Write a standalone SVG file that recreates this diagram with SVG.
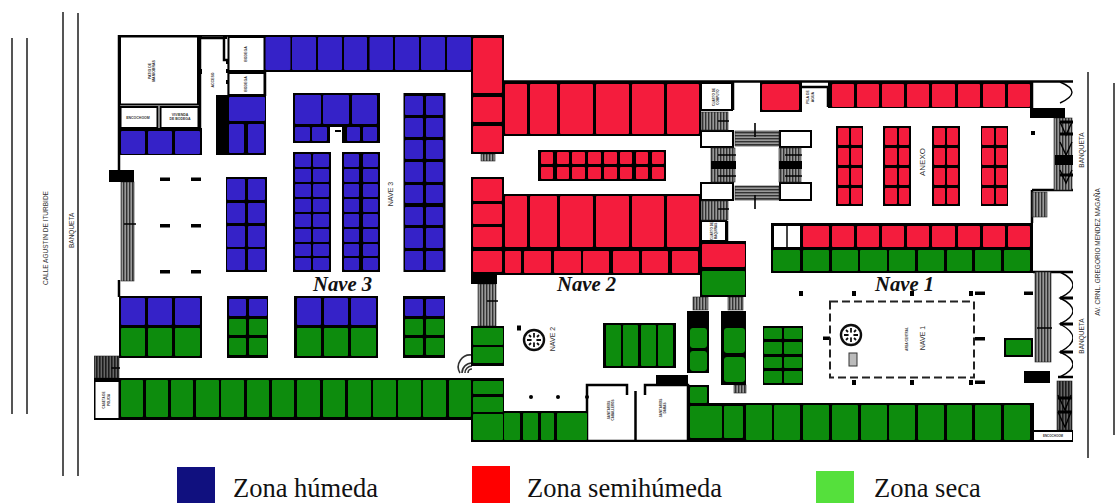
<svg xmlns="http://www.w3.org/2000/svg" width="1117" height="503" viewBox="0 0 1117 503">
<style>
.k{fill:#000}
.b{fill:#3420c8}
.r{fill:#f41e3c}
.g{fill:#0a8c0a}
.w{fill:#fff;stroke:#000;stroke-width:2}
.sv{fill:url(#sv);stroke:#222;stroke-width:.6}
.sh{fill:url(#sh);stroke:#222;stroke-width:.6}
.sd{fill:url(#sd);stroke:#222;stroke-width:.6}
.l{stroke:#000;stroke-width:2.5;fill:none}
.road{stroke:#555;stroke-width:2;fill:none}
.t{font-family:"Liberation Sans",Arial,sans-serif;fill:#333}
.n{font-family:"Liberation Serif","Times New Roman",serif;font-weight:bold;font-style:italic;font-size:20.700px;fill:#111}
.z{font-family:"Liberation Serif","Times New Roman",serif;font-size:26.500px;fill:#111}
</style>
<defs>
<pattern id="sv" width="3" height="4" patternUnits="userSpaceOnUse"><rect width="3" height="4" fill="#999"/><rect width="1.4" height="4" fill="#333"/></pattern>
<pattern id="sh" width="4" height="3" patternUnits="userSpaceOnUse"><rect width="4" height="3" fill="#999"/><rect width="4" height="1.4" fill="#333"/></pattern>
<pattern id="sd" width="3" height="4" patternUnits="userSpaceOnUse"><rect width="3" height="4" fill="#666"/><rect width="1.6" height="4" fill="#1c1c1c"/></pattern>
<filter id="soft" x="0" y="0" width="1" height="1"><feGaussianBlur stdDeviation="0.35"/></filter>
<g id="compass"><circle r="10" fill="#fff" stroke="#111" stroke-width="2.4"/><path d="M-7 0H7M0-7V7M-5-5L-3-3M5-5L3-3M-5 5L-3 3M5 5L3 3" stroke="#111" stroke-width="1.8"/><circle r="2.5" fill="#fff"/></g>
</defs>
<g class="road">
<path d="M12 38V414M27 38V414M63 12V476M78 13V476M1088 72V458M1114 83V435"/>
</g>
<g filter="url(#soft)">
<g id="walls">
<path class="l" d="M119 35.500H503M119 35V170M119 280V297M503 81.500H1073M471 441H1034"/>
<path class="l" d="M200 37V130M200 38H224V60H229V95M265 37V96M228 71.500H265" stroke-width="2"/>
<path class="l" d="M1032 82V110M1032 190V223M1032 190H1073M1033 272H1073M1058 377H1073M801 87H828V107"/>
<rect class="k" x="198" y="36" width="4" height="3"/><rect class="k" x="223" y="36" width="4" height="3"/>
<rect class="k" x="198" y="69" width="4" height="5"/><rect class="k" x="226" y="60" width="4" height="4"/><rect class="k" x="226" y="69" width="4" height="4"/><rect class="k" x="226" y="80" width="4" height="4"/>
<path class="l" d="M587 440V385H627V395M645 395V385H688V441M635.500 391V441"/>
<path class="l" d="M733 81V110M727 221V241" />
</g>
<g id="rooms">
<rect class="w" x="120" y="36.500" width="78" height="68"/>
<rect class="w" x="120.500" y="107" width="37" height="21"/>
<rect class="w" x="160.500" y="107" width="38" height="21"/>
<rect class="w" x="228.500" y="37" width="36" height="34"/>
<rect class="w" x="228.500" y="73" width="36" height="22"/>
<rect class="w" x="701" y="83" width="31" height="27"/>
<rect class="w" x="701" y="131" width="32" height="16"/>
<rect class="w" x="701" y="183" width="32" height="17"/>
<rect class="w" x="780" y="131" width="31" height="16"/>
<rect class="w" x="780" y="183" width="31" height="17"/>
<rect class="w" x="701" y="221" width="25" height="20"/>
</g>
<g id="stairs">
<rect class="sv" x="121" y="182" width="13" height="99"/>
<rect class="k" x="109" y="170" width="25" height="12"/>
<rect class="sd" x="94" y="356" width="25" height="22"/>
<rect class="sv" x="478" y="284" width="18" height="42"/>
<rect class="k" x="471" y="272" width="26" height="12"/>
<rect class="sv" x="481" y="154" width="14" height="7"/>
<rect class="sv" x="701" y="112" width="27" height="18"/>
<rect class="sv" x="711" y="148" width="24" height="34"/>
<rect class="k" x="711" y="161" width="25" height="8"/>
<rect class="sh" x="735" y="131" width="44" height="15"/>
<rect class="sh" x="735" y="186" width="44" height="14"/>
<rect class="sv" x="779" y="148" width="22" height="34"/>
<rect class="k" x="779" y="161" width="23" height="8"/>
<rect class="sv" x="701" y="201" width="27" height="19"/>
<rect class="sv" x="693" y="297" width="15" height="13"/>
<rect class="sv" x="728" y="297" width="15" height="13"/>
<rect class="sv" x="734" y="385" width="12" height="8"/>
<rect class="sv" x="1054" y="118" width="18" height="72"/>
<rect class="k" x="1030" y="108" width="35" height="10"/>
<rect class="k" x="1055" y="155" width="18" height="10"/>
<rect class="sv" x="1032" y="192" width="15" height="25"/>
<rect class="sv" x="1035" y="272" width="16" height="90"/>
<rect class="k" x="1024" y="371" width="26" height="12"/>
<rect class="sd" x="1057" y="381" width="15" height="49"/>
<path d="M462 373A10 10 0 0 1 472 363M465 373A7 7 0 0 1 472 366M468 373A4 4 0 0 1 472 369M460 373A12 12 0 0 1 472 355" fill="none" stroke="#333" stroke-width="1.6"/>
<path d="M1060 272Q1086 285 1060 298Q1086 311 1060 324Q1086 338 1060 352Q1086 364 1060 377M1060 82Q1084 92 1060 103M1060 122L1066 135L1072 122M1060 142L1066 155L1072 142M1060 170L1066 183L1072 170M1058 395L1065 410L1071 395M1058 412L1065 427L1071 412" fill="none" stroke="#000" stroke-width="1.4"/>
<path d="M1060 298H1073M1060 324H1073M1060 352H1073M1060 122H1073M1060 134H1073M1060 175H1073M1058 398H1072M1058 412H1072" stroke="#000" stroke-width="3"/>
<path d="M124 224H136M111 368H120M487 301H498M718 121H729M718 209H729M755 123V137M755 195V209M718 155H736M718 176H736M785 155H802M785 176H802M1037 328H1052" stroke="#000" stroke-width="1.600"/>
</g>
<g id="pillars" class="k">
<rect x="160" y="177.500" width="10" height="3.500"/><rect x="191" y="177.500" width="10" height="3.500"/>
<rect x="160" y="224" width="10" height="3.500"/><rect x="191" y="224" width="10" height="3.500"/>
<rect x="160" y="270" width="10" height="3.500"/><rect x="191" y="270" width="10" height="3.500"/>
<rect x="517" y="325.500" width="4" height="5"/><circle cx="531" cy="397" r="2"/><circle cx="558" cy="397" r="2"/><circle cx="587" cy="397" r="2"/>
<rect x="799" y="291" width="4" height="5"/><rect x="852" y="291" width="4" height="5"/><rect x="910" y="291" width="4" height="5"/><rect x="969" y="291" width="4" height="5"/>
<rect x="975" y="291.500" width="10" height="3.500"/><rect x="1024" y="291.500" width="9" height="3.500"/>
<rect x="852" y="380" width="4" height="5"/><rect x="910" y="380" width="4" height="5"/><rect x="969" y="380" width="4" height="5"/>
<rect x="975" y="380.500" width="10" height="3.500"/><rect x="823" y="336.500" width="7" height="3.500"/><rect x="975" y="337" width="10" height="3.500"/>
<rect x="1031" y="131" width="4" height="4"/>
<rect x="216" y="95" width="12" height="60"/>
<rect x="656" y="375" width="32" height="11"/>
</g>
<g id="blackblocks" class="k">
<rect x="265" y="35" width="208" height="37"/>
<rect x="119" y="128" width="83" height="27"/>
<rect x="228" y="95" width="38" height="60"/>
<rect x="226" y="177" width="41" height="95"/>
<rect x="293" y="93" width="87" height="50"/>
<rect x="293" y="152" width="38" height="120"/>
<rect x="342" y="152" width="38" height="120"/>
<rect x="403.500" y="93" width="42" height="179"/>
<rect x="119" y="296" width="83" height="62"/>
<rect x="227" y="296" width="41" height="62"/>
<rect x="294" y="296" width="84" height="62"/>
<rect x="403" y="296" width="42" height="62"/>
<rect x="94" y="378" width="378" height="42"/>
<rect x="471" y="326" width="33" height="40"/>
<rect x="471" y="378" width="33" height="64"/>
<rect x="504" y="411" width="84" height="31"/>
<rect x="603" y="323" width="73" height="45"/>
<rect x="700" y="241" width="46" height="56"/>
<rect x="687" y="311" width="22" height="62"/>
<rect x="721" y="311" width="25" height="74"/>
<rect x="687" y="385" width="22" height="20"/>
<rect x="687" y="403" width="347" height="39"/>
<rect x="471" y="35" width="33" height="119"/>
<rect x="504" y="81" width="197" height="55"/>
<rect x="538" y="150" width="128" height="31"/>
<rect x="471" y="177" width="33" height="98"/>
<rect x="504" y="194" width="197" height="55"/>
<rect x="504" y="249" width="197" height="26"/>
<rect x="760" y="81" width="42" height="31"/>
<rect x="828" y="82" width="204" height="26"/>
<rect x="836" y="126" width="27" height="80"/>
<rect x="883" y="126" width="28" height="80"/>
<rect x="932" y="126" width="28" height="80"/>
<rect x="981" y="126" width="27" height="80"/>
<rect x="771" y="223" width="262" height="50"/>
<rect x="1004" y="338" width="29" height="19"/>
<rect x="763" y="326" width="40" height="59"/>
</g>
<rect fill="#fff" x="95.500" y="382" width="23" height="36"/>
<rect class="w" x="1033" y="431" width="40" height="10"/>
<rect fill="#fff" x="774" y="226" width="26" height="21"/>
<rect x="786" y="226" width="2" height="21" fill="#444"/>
<rect fill="#fff" x="330" y="127" width="12" height="17"/>
<rect class="k" x="335" y="130" width="6" height="2"/>
<g id="zona-humeda" class="b">
<rect x="265.500" y="37" width="25" height="33" rx="1"/><rect x="292" y="37" width="24" height="33" rx="1"/><rect x="318" y="37" width="24" height="33" rx="1"/><rect x="344" y="37" width="23" height="33" rx="1"/><rect x="369.500" y="37" width="23.500" height="33" rx="1"/><rect x="395" y="37" width="24" height="33" rx="1"/><rect x="421" y="37" width="24" height="33" rx="1"/><rect x="447" y="37" width="24" height="33" rx="1"/>
<rect x="121" y="131" width="24" height="23" rx="1"/><rect x="148" y="131" width="24" height="23" rx="1"/><rect x="175" y="131" width="25" height="23" rx="1"/>
<rect x="229" y="97" width="36" height="24" rx="1"/><rect x="229" y="124" width="15" height="29" rx="1"/><rect x="248" y="124" width="16" height="29" rx="1"/>
<rect x="227" y="179" width="18" height="21" rx="1"/><rect x="248" y="179" width="17" height="21" rx="1"/><rect x="227" y="203" width="18" height="20" rx="1"/><rect x="248" y="203" width="17" height="20" rx="1"/><rect x="227" y="226" width="18" height="21" rx="1"/><rect x="248" y="226" width="17" height="21" rx="1"/><rect x="227" y="249" width="18" height="21" rx="1"/><rect x="248" y="249" width="17" height="21" rx="1"/>
<rect x="295" y="95" width="26" height="29" rx="1"/><rect x="323" y="95" width="26" height="29" rx="1"/><rect x="352" y="95" width="25" height="29" rx="1"/><rect x="295" y="127" width="15" height="14" rx="1"/><rect x="312" y="127" width="15" height="14" rx="1"/><rect x="347" y="127" width="13" height="14" rx="1"/><rect x="363" y="127" width="14" height="14" rx="1"/>
<rect x="295" y="154" width="16" height="13" rx="1"/><rect x="313" y="154" width="16" height="13" rx="1"/><rect x="295" y="169" width="16" height="13" rx="1"/><rect x="313" y="169" width="16" height="13" rx="1"/><rect x="295" y="184" width="16" height="13" rx="1"/><rect x="313" y="184" width="16" height="13" rx="1"/><rect x="295" y="199" width="16" height="13" rx="1"/><rect x="313" y="199" width="16" height="13" rx="1"/><rect x="295" y="214" width="16" height="13" rx="1"/><rect x="313" y="214" width="16" height="13" rx="1"/><rect x="295" y="229" width="16" height="13" rx="1"/><rect x="313" y="229" width="16" height="13" rx="1"/><rect x="295" y="244" width="16" height="12" rx="1"/><rect x="313" y="244" width="16" height="12" rx="1"/><rect x="295" y="258" width="16" height="12" rx="1"/><rect x="313" y="258" width="16" height="12" rx="1"/>
<rect x="344" y="154" width="15" height="13" rx="1"/><rect x="363" y="154" width="15" height="13" rx="1"/><rect x="344" y="169" width="15" height="13" rx="1"/><rect x="363" y="169" width="15" height="13" rx="1"/><rect x="344" y="184" width="15" height="13" rx="1"/><rect x="363" y="184" width="15" height="13" rx="1"/><rect x="344" y="199" width="15" height="13" rx="1"/><rect x="363" y="199" width="15" height="13" rx="1"/><rect x="344" y="214" width="15" height="13" rx="1"/><rect x="363" y="214" width="15" height="13" rx="1"/><rect x="344" y="229" width="15" height="13" rx="1"/><rect x="363" y="229" width="15" height="13" rx="1"/><rect x="344" y="244" width="15" height="12" rx="1"/><rect x="363" y="244" width="15" height="12" rx="1"/><rect x="344" y="258" width="15" height="12" rx="1"/><rect x="363" y="258" width="15" height="12" rx="1"/>
<rect x="405" y="96" width="18" height="19" rx="1"/><rect x="426" y="96" width="17" height="19" rx="1"/><rect x="405" y="118" width="18" height="19" rx="1"/><rect x="426" y="118" width="17" height="19" rx="1"/><rect x="405" y="140" width="18" height="19" rx="1"/><rect x="426" y="140" width="17" height="19" rx="1"/><rect x="405" y="162" width="18" height="20" rx="1"/><rect x="426" y="162" width="17" height="20" rx="1"/><rect x="405" y="185" width="18" height="18" rx="1"/><rect x="426" y="185" width="17" height="18" rx="1"/><rect x="405" y="207" width="18" height="18" rx="1"/><rect x="426" y="207" width="17" height="18" rx="1"/><rect x="405" y="228" width="18" height="20" rx="1"/><rect x="426" y="228" width="17" height="20" rx="1"/><rect x="405" y="251" width="18" height="19" rx="1"/><rect x="426" y="251" width="17" height="19" rx="1"/>
<rect x="121" y="298" width="24" height="27" rx="1"/><rect x="148" y="298" width="24" height="27" rx="1"/><rect x="175" y="298" width="25" height="27" rx="1"/>
<rect x="229" y="299" width="17" height="17" rx="1"/><rect x="249" y="299" width="18" height="17" rx="1"/>
<rect x="297" y="298" width="24" height="27" rx="1"/><rect x="324" y="298" width="24" height="27" rx="1"/><rect x="351" y="298" width="25" height="27" rx="1"/>
<rect x="405" y="299" width="18" height="17" rx="1"/><rect x="426" y="299" width="18" height="17" rx="1"/>
</g>
<g id="zona-semihumeda" class="r">
<rect x="473" y="38" width="29" height="55" rx="1"/><rect x="473" y="97" width="29" height="25" rx="1"/><rect x="473" y="126" width="29" height="26" rx="1"/>
<rect x="505" y="84" width="22" height="50" rx="1"/><rect x="530" y="84" width="27" height="50" rx="1"/><rect x="560" y="84" width="33" height="50" rx="1"/><rect x="596" y="84" width="33" height="50" rx="1"/><rect x="632" y="84" width="32" height="50" rx="1"/><rect x="667" y="84" width="32" height="50" rx="1"/>
<rect x="541" y="152" width="12" height="12" rx="1"/><rect x="557" y="152" width="12" height="12" rx="1"/><rect x="572" y="152" width="13" height="12" rx="1"/><rect x="588" y="152" width="13" height="12" rx="1"/><rect x="604" y="152" width="13" height="12" rx="1"/><rect x="620" y="152" width="12" height="12" rx="1"/><rect x="636" y="152" width="12" height="12" rx="1"/><rect x="652" y="152" width="12" height="12" rx="1"/>
<rect x="541" y="167" width="12" height="12" rx="1"/><rect x="557" y="167" width="12" height="12" rx="1"/><rect x="572" y="167" width="13" height="12" rx="1"/><rect x="588" y="167" width="13" height="12" rx="1"/><rect x="604" y="167" width="13" height="12" rx="1"/><rect x="620" y="167" width="12" height="12" rx="1"/><rect x="636" y="167" width="12" height="12" rx="1"/><rect x="652" y="167" width="12" height="12" rx="1"/>
<rect x="473" y="179" width="29" height="22" rx="1"/><rect x="473" y="204" width="29" height="20" rx="1"/><rect x="473" y="227" width="29" height="20" rx="1"/><rect x="473" y="251" width="29" height="21" rx="1"/>
<rect x="505" y="196" width="22" height="51" rx="1"/><rect x="530" y="196" width="27" height="51" rx="1"/><rect x="560" y="196" width="33" height="51" rx="1"/><rect x="596" y="196" width="33" height="51" rx="1"/><rect x="632" y="196" width="32" height="51" rx="1"/><rect x="667" y="196" width="32" height="51" rx="1"/>
<rect x="505" y="251" width="16" height="22" rx="1"/><rect x="524" y="251" width="27" height="22" rx="1"/><rect x="554" y="251" width="27" height="22" rx="1"/><rect x="583" y="251" width="26" height="22" rx="1"/><rect x="613" y="251" width="26" height="22" rx="1"/><rect x="642" y="251" width="26" height="22" rx="1"/><rect x="672" y="251" width="26" height="22" rx="1"/>
<rect x="702" y="244" width="43" height="23" rx="1"/>
<rect x="762" y="84" width="37" height="26" rx="1"/>
<rect x="832" y="84" width="22" height="23" rx="1"/><rect x="857" y="84" width="22" height="23" rx="1"/><rect x="882" y="84" width="22" height="23" rx="1"/><rect x="907" y="84" width="22" height="23" rx="1"/><rect x="932" y="84" width="23" height="23" rx="1"/><rect x="958" y="84" width="22" height="23" rx="1"/><rect x="983" y="84" width="22" height="23" rx="1"/><rect x="1008" y="84" width="22" height="23" rx="1"/>
<rect x="838" y="128" width="11" height="17" rx="1"/><rect x="851" y="128" width="11" height="17" rx="1"/><rect x="838" y="148" width="11" height="17" rx="1"/><rect x="851" y="148" width="11" height="17" rx="1"/><rect x="838" y="168" width="11" height="17" rx="1"/><rect x="851" y="168" width="11" height="17" rx="1"/><rect x="838" y="188" width="11" height="16" rx="1"/><rect x="851" y="188" width="11" height="16" rx="1"/>
<rect x="885" y="128" width="12" height="17" rx="1"/><rect x="899" y="128" width="10" height="17" rx="1"/><rect x="885" y="148" width="12" height="17" rx="1"/><rect x="899" y="148" width="10" height="17" rx="1"/><rect x="885" y="168" width="12" height="17" rx="1"/><rect x="899" y="168" width="10" height="17" rx="1"/><rect x="885" y="188" width="12" height="16" rx="1"/><rect x="899" y="188" width="10" height="16" rx="1"/>
<rect x="934" y="128" width="11" height="17" rx="1"/><rect x="947" y="128" width="11" height="17" rx="1"/><rect x="934" y="148" width="11" height="17" rx="1"/><rect x="947" y="148" width="11" height="17" rx="1"/><rect x="934" y="168" width="11" height="17" rx="1"/><rect x="947" y="168" width="11" height="17" rx="1"/><rect x="934" y="188" width="11" height="16" rx="1"/><rect x="947" y="188" width="11" height="16" rx="1"/>
<rect x="982" y="128" width="12" height="17" rx="1"/><rect x="996" y="128" width="11" height="17" rx="1"/><rect x="982" y="148" width="12" height="17" rx="1"/><rect x="996" y="148" width="11" height="17" rx="1"/><rect x="982" y="168" width="12" height="17" rx="1"/><rect x="996" y="168" width="11" height="17" rx="1"/><rect x="982" y="188" width="12" height="16" rx="1"/><rect x="996" y="188" width="11" height="16" rx="1"/>
<rect x="803" y="226" width="26" height="21" rx="1"/><rect x="832" y="226" width="22" height="21" rx="1"/><rect x="857" y="226" width="22" height="21" rx="1"/><rect x="882" y="226" width="22" height="21" rx="1"/><rect x="907" y="226" width="22" height="21" rx="1"/><rect x="932" y="226" width="23" height="21" rx="1"/><rect x="958" y="226" width="22" height="21" rx="1"/><rect x="983" y="226" width="22" height="21" rx="1"/><rect x="1008" y="226" width="22" height="21" rx="1"/>
</g>
<g id="zona-seca" class="g">
<rect x="121" y="328" width="24" height="28" rx="1"/><rect x="148" y="328" width="24" height="28" rx="1"/><rect x="175" y="328" width="25" height="28" rx="1"/>
<rect x="229" y="319" width="17" height="16" rx="1"/><rect x="249" y="319" width="18" height="16" rx="1"/><rect x="229" y="338" width="17" height="17" rx="1"/><rect x="249" y="338" width="18" height="17" rx="1"/>
<rect x="297" y="328" width="24" height="28" rx="1"/><rect x="324" y="328" width="24" height="28" rx="1"/><rect x="351" y="328" width="25" height="28" rx="1"/>
<rect x="405" y="319" width="18" height="16" rx="1"/><rect x="426" y="319" width="18" height="16" rx="1"/><rect x="405" y="338" width="18" height="17" rx="1"/><rect x="426" y="338" width="18" height="17" rx="1"/>
<rect x="121" y="380" width="22" height="37" rx="1"/><rect x="146" y="380" width="22" height="37" rx="1"/><rect x="171" y="380" width="22" height="37" rx="1"/><rect x="196" y="380" width="23" height="37" rx="1"/><rect x="221" y="380" width="23" height="37" rx="1"/><rect x="247" y="380" width="22" height="37" rx="1"/><rect x="272" y="380" width="22" height="37" rx="1"/><rect x="297" y="380" width="23" height="37" rx="1"/><rect x="323" y="380" width="22" height="37" rx="1"/><rect x="348" y="380" width="23" height="37" rx="1"/><rect x="373" y="380" width="23" height="37" rx="1"/><rect x="398" y="380" width="23" height="37" rx="1"/><rect x="423" y="380" width="23" height="37" rx="1"/><rect x="449" y="380" width="22" height="37" rx="1"/>
<rect x="473" y="328" width="30" height="17" rx="1"/><rect x="473" y="347" width="30" height="16" rx="1"/>
<rect x="473" y="381" width="30" height="13" rx="1"/><rect x="473" y="397" width="30" height="15" rx="1"/><rect x="473" y="414" width="30" height="26" rx="1"/>
<rect x="504" y="413" width="16" height="27" rx="1"/><rect x="523" y="413" width="15" height="27" rx="1"/><rect x="541" y="413" width="13" height="27" rx="1"/><rect x="557" y="413" width="30" height="27" rx="1"/>
<rect x="606" y="325" width="15" height="41" rx="1"/><rect x="623" y="325" width="15" height="41" rx="1"/><rect x="641" y="325" width="15" height="41" rx="1"/><rect x="658" y="325" width="15" height="41" rx="1"/>
<rect x="702" y="271" width="43" height="24" rx="1"/>
<rect x="690" y="328" width="17" height="20" rx="3"/><rect x="690" y="351" width="17" height="20" rx="3"/>
<rect x="724" y="328" width="21" height="25" rx="3"/><rect x="724" y="357" width="21" height="25" rx="3"/>
<rect x="690" y="387" width="17" height="16" rx="1"/>
<rect x="690" y="406" width="32" height="32" rx="1"/><rect x="724" y="406" width="19" height="32" rx="1"/>
<rect x="746" y="405" width="26" height="35" rx="1"/><rect x="774" y="405" width="26" height="35" rx="1"/><rect x="803" y="405" width="26" height="35" rx="1"/><rect x="832" y="405" width="26" height="35" rx="1"/><rect x="861" y="405" width="26" height="35" rx="1"/><rect x="889" y="405" width="26" height="35" rx="1"/><rect x="918" y="405" width="26" height="35" rx="1"/><rect x="947" y="405" width="25" height="35" rx="1"/><rect x="975" y="405" width="26" height="35" rx="1"/><rect x="1004" y="405" width="26" height="35" rx="1"/>
<rect x="773" y="250" width="27" height="21" rx="1"/><rect x="803" y="250" width="26" height="21" rx="1"/><rect x="832" y="250" width="26" height="21" rx="1"/><rect x="860" y="250" width="27" height="21" rx="1"/><rect x="889" y="250" width="26" height="21" rx="1"/><rect x="918" y="250" width="26" height="21" rx="1"/><rect x="947" y="250" width="25" height="21" rx="1"/><rect x="975" y="250" width="26" height="21" rx="1"/><rect x="1004" y="250" width="26" height="21" rx="1"/>
<rect x="1006" y="340" width="25" height="15" rx="1"/>
<rect x="764" y="328" width="18" height="11" rx="1"/><rect x="784" y="328" width="18" height="11" rx="1"/><rect x="764" y="342" width="18" height="12" rx="1"/><rect x="784" y="342" width="18" height="12" rx="1"/><rect x="764" y="357" width="18" height="11" rx="1"/><rect x="784" y="357" width="18" height="11" rx="1"/><rect x="764" y="371" width="18" height="12" rx="1"/><rect x="784" y="371" width="18" height="12" rx="1"/>
</g>
<g id="nave-1-centro">
<rect x="830" y="301.500" width="144" height="76" fill="none" stroke="#222" stroke-width="2" stroke-dasharray="8 4"/>
<use href="#compass" x="851" y="335"/>
<rect x="849" y="353" width="8" height="13" fill="#bbb" stroke="#333" stroke-width="1"/>
<use href="#compass" x="534" y="340"/>
</g>
</g>
<g id="labels">
<text class="t" font-size="6.500" transform="translate(48 285) rotate(-90)">CALLE  AGUSTIN  DE  ITURBIDE</text>
<text class="t" font-size="6.500" transform="translate(74 248) rotate(-90)">BANQUETA</text>
<text class="t" font-size="3.500" font-weight="bold" text-anchor="middle" transform="translate(151 71) rotate(-90)">PATIO DE</text>
<text class="t" font-size="3.500" font-weight="bold" text-anchor="middle" transform="translate(155 71) rotate(-90)">MANIOBRAS</text>
<text class="t" font-size="3.500" font-weight="bold" text-anchor="middle" transform="translate(214 80) rotate(-90)">ACCESO</text>
<text class="t" font-size="3.500" font-weight="bold" text-anchor="middle" transform="translate(247 54) rotate(-90)">BODEGA</text>
<text class="t" font-size="3.500" font-weight="bold" text-anchor="middle" transform="translate(247 84) rotate(-90)">BODEGA</text>
<text class="t" font-size="3.500" font-weight="bold" text-anchor="middle" x="138" y="119">ENCOCHOOM</text>
<text class="t" font-size="3.500" font-weight="bold" text-anchor="middle" x="180" y="116">VIVIENDA</text>
<text class="t" font-size="3.500" font-weight="bold" text-anchor="middle" x="180" y="120">DE BODEGA</text>
<text class="t" font-size="3" font-weight="bold" text-anchor="middle" transform="translate(105 400) rotate(-90)">CASETA DE</text>
<text class="t" font-size="3" font-weight="bold" text-anchor="middle" transform="translate(110 400) rotate(-90)">POLICIA</text>
<text class="t" font-size="7" text-anchor="middle" transform="translate(393 194) rotate(-90)">NAVE  3</text>
<text class="t" font-size="7" text-anchor="middle" transform="translate(555 339) rotate(-90)">NAVE  2</text>
<text class="t" font-size="7" text-anchor="middle" transform="translate(925 338) rotate(-90)">NAVE  1</text>
<text class="t" font-size="8" text-anchor="middle" transform="translate(925 162) rotate(-90)">ANEXO</text>
<text class="t" font-size="3" font-weight="bold" text-anchor="middle" transform="translate(908 339) rotate(-90)">AREA CENTRAL</text>
<text class="t" font-size="3" font-weight="bold" text-anchor="middle" transform="translate(610 410) rotate(-90)">SANITARIOS</text>
<text class="t" font-size="3" font-weight="bold" text-anchor="middle" transform="translate(614 410) rotate(-90)">CABALLEROS</text>
<text class="t" font-size="3" font-weight="bold" text-anchor="middle" transform="translate(662 408) rotate(-90)">SANITARIOS</text>
<text class="t" font-size="3" font-weight="bold" text-anchor="middle" transform="translate(666 408) rotate(-90)">DAMAS</text>
<text class="t" font-size="3" font-weight="bold" text-anchor="middle" transform="translate(715 97) rotate(-90)">CUARTO DE</text>
<text class="t" font-size="3" font-weight="bold" text-anchor="middle" transform="translate(719 97) rotate(-90)">COMPUTO</text>
<text class="t" font-size="3" font-weight="bold" text-anchor="middle" transform="translate(713 231) rotate(-90)">CUARTO DE</text>
<text class="t" font-size="3" font-weight="bold" text-anchor="middle" transform="translate(717 231) rotate(-90)">MAQUINAS</text>
<text class="t" font-size="3.500" font-weight="bold" text-anchor="middle" transform="translate(809 97) rotate(-90)">PILA DE</text>
<text class="t" font-size="3.500" font-weight="bold" text-anchor="middle" transform="translate(814 97) rotate(-90)">AGUA</text>
<text class="t" font-size="3" font-weight="bold" text-anchor="middle" x="1053" y="437">ENCOCHOOM</text>
<text class="t" font-size="6.500" text-anchor="middle" transform="translate(1084 150) rotate(-90)">BANQUETA</text>
<text class="t" font-size="6.500" text-anchor="middle" transform="translate(1084 336) rotate(-90)">BANQUETA</text>
<text class="t" font-size="6.500" text-anchor="middle" transform="translate(1100 252) rotate(-90)">AV. CRNL. GREGORIO MENDEZ MAGAÑA</text>
<text class="n" x="313" y="291">Nave 3</text>
<text class="n" x="557" y="291">Nave 2</text>
<text class="n" x="875" y="291">Nave 1</text>
</g>
<g id="legend">
<rect x="177" y="467" width="38" height="36" fill="#10107f"/>
<rect x="472" y="466" width="38" height="37" fill="#ff0000"/>
<rect x="816" y="471" width="38" height="32" fill="#55e03c"/>
<text class="z" x="233" y="497">Zona húmeda</text>
<text class="z" x="527" y="497">Zona semihúmeda</text>
<text class="z" x="874" y="497">Zona seca</text>
</g>
</svg>
